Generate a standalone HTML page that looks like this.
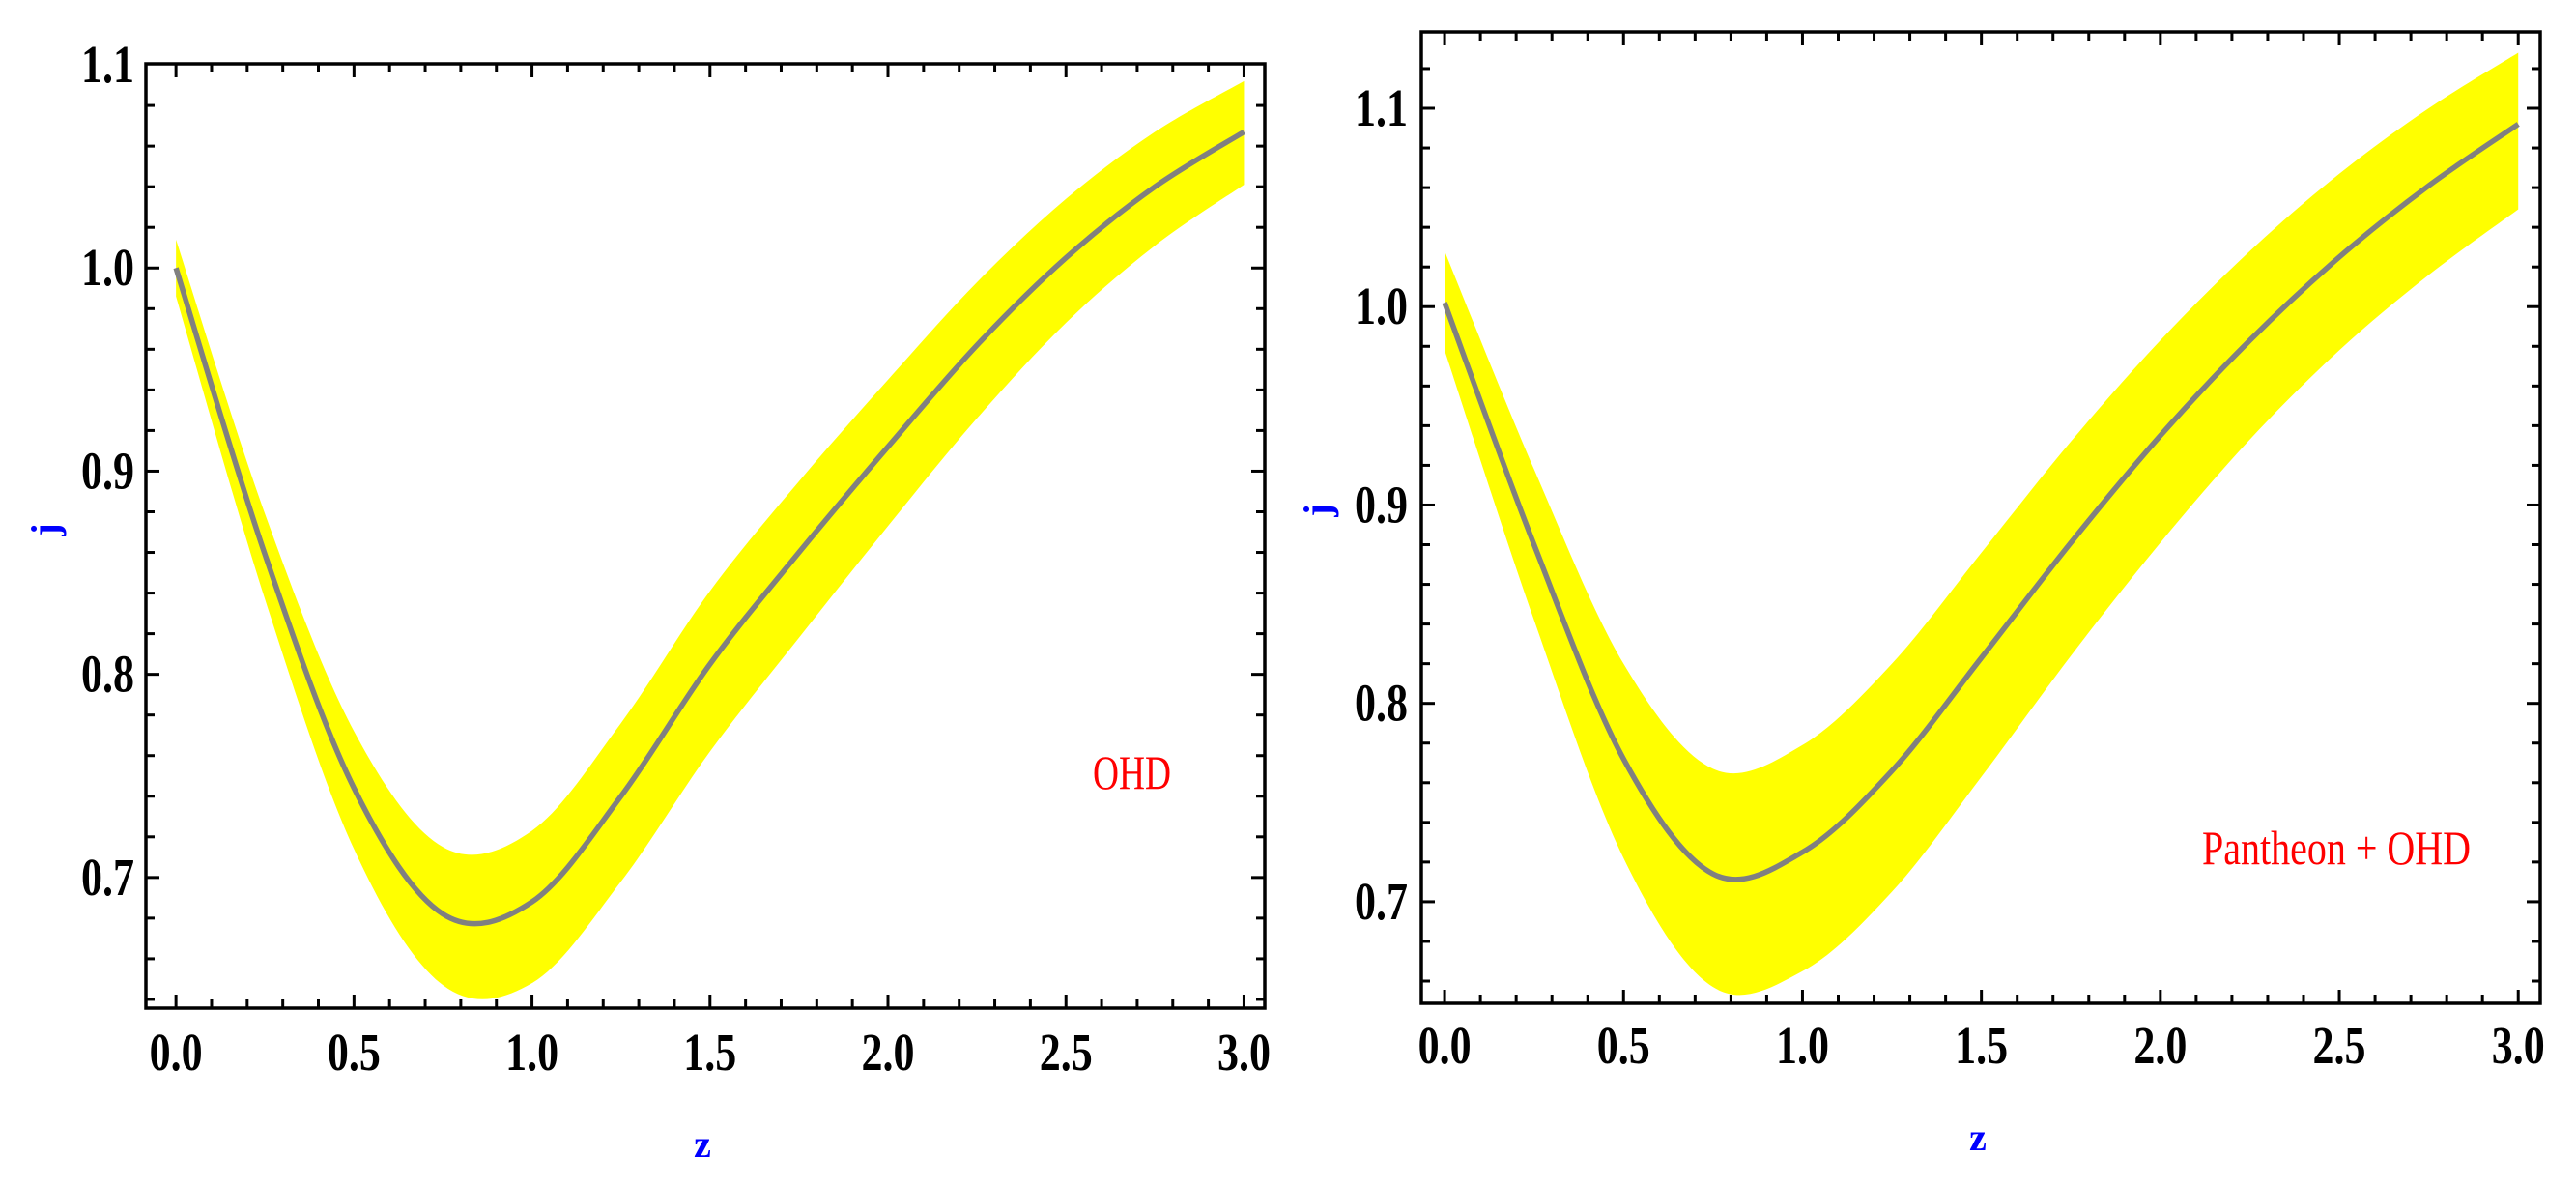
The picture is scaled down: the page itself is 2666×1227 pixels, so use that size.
<!DOCTYPE html>
<html><head><meta charset="utf-8"><style>
html,body{margin:0;padding:0;background:#fff;}
svg{display:block;}
</style></head><body>
<svg id="fig" width="2666" height="1227" viewBox="0 0 2666 1227" xmlns="http://www.w3.org/2000/svg"></svg>
<script>
const zValues = [0,0.25,0.5,0.75,1,1.25,1.5,1.75,2,2.25,2.5,2.75,3];
const ohdCenter = [1.0,0.859,0.744,0.682,0.688,0.74,0.805,0.86,0.912,0.962,1.005,1.04,1.067];
const ohdUpper = [1.014,0.879,0.772,0.715,0.723,0.776,0.841,0.895,0.945,0.993,1.034,1.067,1.092];
const ohdLower = [0.986,0.837,0.714,0.647,0.648,0.698,0.762,0.818,0.873,0.926,0.973,1.011,1.041];
const panCenter = [1.002,0.88,0.772,0.714,0.725,0.766,0.823,0.881,0.935,0.983,1.025,1.061,1.092];
const panUpper = [1.028,0.918,0.82,0.767,0.779,0.82,0.876,0.932,0.983,1.028,1.067,1.1,1.128];
const panLower = [0.978,0.842,0.722,0.657,0.665,0.705,0.763,0.824,0.881,0.933,0.978,1.016,1.049];
const xTickLabels = ["0.0","0.5","1.0","1.5","2.0","2.5","3.0"];
const yTickLabelsOhd = ["0.7","0.8","0.9","1.0","1.1"];
const yTickLabelsPan = ["0.7","0.8","0.9","1.0","1.1"];

const NS = "http://www.w3.org/2000/svg";
const svg = document.getElementById('fig');
function mk(tag, attrs, parent){
  const e = document.createElementNS(NS, tag);
  for (const k in attrs) e.setAttribute(k, attrs[k]);
  (parent||svg).appendChild(e);
  return e;
}
function smoothPath(pts, move){
  let d = move ? `M${pts[0][0]},${pts[0][1]}` : `L${pts[0][0]},${pts[0][1]}`;
  for (let i=0;i<pts.length-1;i++){
    const p0=pts[Math.max(0,i-1)], p1=pts[i], p2=pts[i+1], p3=pts[Math.min(pts.length-1,i+2)];
    const c1=[p1[0]+(p2[0]-p0[0])/6, p1[1]+(p2[1]-p0[1])/6];
    const c2=[p2[0]-(p3[0]-p1[0])/6, p2[1]-(p3[1]-p1[1])/6];
    d += ` C${c1[0]},${c1[1]} ${c2[0]},${c2[1]} ${p2[0]},${p2[1]}`;
  }
  return d;
}
function drawPanel(c){
  const g = mk('g', {});
  
  
  const sx = v => c.x0 + (v - c.zmin)/(c.zmax - c.zmin)*(c.x1 - c.x0);
  const sy = v => c.y1 - (v - c.jmin)/(c.jmax - c.jmin)*(c.y1 - c.y0);
  const up = zValues.map((z,i)=>[sx(z), sy(c.upper[i])]);
  const lo = zValues.map((z,i)=>[sx(z), sy(c.lower[i])]).reverse();
  const band = mk('path', {d: smoothPath(up,true)+' '+smoothPath(lo,false)+' Z', fill:'#ffff00', stroke:'none'}, g);
  
  
  const line = mk('path', {d: smoothPath(zValues.map((z,i)=>[sx(z), sy(c.center[i])]),true), fill:'none', stroke:'#808080', 'stroke-width':5.5}, g);
  
  
  const fr = mk('rect', {x:c.x0, y:c.y0, width:c.x1-c.x0, height:c.y1-c.y0, fill:'none', stroke:'#000', 'stroke-width':3.5}, g);
  
  
  for (let k=-1;k<=31;k++){
    const v = k/10; const x = sx(v);
    if (x < c.x0+2 || x > c.x1-2) continue;
    const L = (k%5===0)?14:9;
    mk('line',{x1:x,y1:c.y1,x2:x,y2:c.y1-L,stroke:'#000','stroke-width':3},g);
    mk('line',{x1:x,y1:c.y0,x2:x,y2:c.y0+L,stroke:'#000','stroke-width':3},g);
  }
  for (let k=30;k<=60;k++){
    const v = k/50; const y = sy(v);
    if (y < c.y0+2 || y > c.y1-2) continue;
    const L = (k%5===0)?14:9;
    mk('line',{x1:c.x0,y1:y,x2:c.x0+L,y2:y,stroke:'#000','stroke-width':3},g);
    mk('line',{x1:c.x1,y1:y,x2:c.x1-L,y2:y,stroke:'#000','stroke-width':3},g);
  }
  xTickLabels.forEach(s=>{
    const t = mk('text',{transform:`translate(${sx(parseFloat(s))},${c.xlabY}) scale(1,1.25)`,'text-anchor':'middle','font-family':'"Liberation Serif", serif','font-weight':'bold','font-size':44,fill:'#000'},g);
    t.textContent = s;
    
    
  });
  c.ylabels.forEach(s=>{
    const t = mk('text',{transform:`translate(${c.ylabX},${sy(parseFloat(s))+18}) scale(1,1.25)`,'text-anchor':'end','font-family':'"Liberation Serif", serif','font-weight':'bold','font-size':44,fill:'#000'},g);
    t.textContent = s;
    
    
  });
  const zt = mk('text',{x:c.zX,y:c.zY+12,'text-anchor':'middle','font-family':'"Liberation Serif", serif','font-weight':'bold','font-size':40,fill:'#0000ff'},g);
  zt.textContent = 'z';
  
  
  const jt = mk('text',{transform:`translate(${c.jX},${c.jY}) rotate(-90)`,'text-anchor':'middle','font-family':'"Liberation Serif", serif','font-weight':'bold','font-size':40,fill:'#0000ff'},g);
  jt.textContent = 'j';
  
  
  const lt = mk('text',{x:c.legX,y:c.legY,'font-family':'"Liberation Serif", serif','font-size':50,fill:'#ff0000',textLength:c.legW,lengthAdjust:'spacingAndGlyphs'},g);
  lt.textContent = c.legend;
  
  
}
drawPanel({name:'ohd-panel', x0:151, x1:1309, y0:66, y1:1043, zmin:-0.0845, zmax:3.0585, jmin:0.6357, jmax:1.1005,
  center:ohdCenter, upper:ohdUpper, lower:ohdLower, ylabels:yTickLabelsOhd, xlabY:1107, ylabX:139,
  zX:727, zY:1185, jX:60, jY:548, legend:'OHD', legX:1131, legY:816, legW:81});
drawPanel({name:'pantheon-ohd-panel', x0:1471, x1:2629, y0:33, y1:1038, zmin:-0.065, zmax:3.0615, jmin:0.6488, jmax:1.1385,
  center:panCenter, upper:panUpper, lower:panLower, ylabels:yTickLabelsPan, xlabY:1100, ylabX:1457,
  zX:2047, zY:1178, jX:1377, jY:528, legend:'Pantheon + OHD', legX:2279, legY:894, legW:278});
</script>
</body></html>
